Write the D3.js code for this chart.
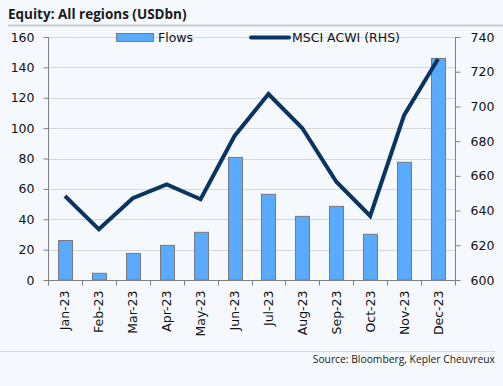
<!DOCTYPE html>
<html><head><meta charset="utf-8">
<script src="https://cdn.jsdelivr.net/npm/d3@7"></script>
<style>
html,body{margin:0;padding:0;background:#f5f9fd;}
svg{display:block;}
</style></head>
<body>
<script>
const months = ["Jan-23","Feb-23","Mar-23","Apr-23","May-23","Jun-23","Jul-23","Aug-23","Sep-23","Oct-23","Nov-23","Dec-23"];
const flows = [26, 4.4, 17.5, 22.8, 31.4, 80.7, 56.4, 41.9, 48.5, 30.1, 77.5, 145.9];
const msci = [648.4, 629.2, 647.1, 655.1, 646.5, 683, 707.1, 687.4, 656.6, 636.9, 695, 727.3];
const leftTicks = [0,20,40,60,80,100,120,140,160];
const rightTicks = [600,620,640,660,680,700,720,740];

const W = 503, H = 386;
const m = {l:48, r:455, t:37, b:280};
const svg = d3.select("body").append("svg").attr("width",W).attr("height",H);
svg.append("rect").attr("width",W).attr("height",H).attr("fill","#f5f9fd");

const font = "DejaVu Sans";
svg.append("text").attr("x",8).attr("y",19).text("Equity: All regions (USDbn)")
  .attr("font-family","Open Sans").attr("font-weight","bold").attr("font-size",13.5).attr("fill","#1a1a1a");
svg.append("line").attr("x1",8).attr("x2",503).attr("y1",25.5).attr("y2",25.5).attr("stroke","#c9cdd1").attr("stroke-width",2);
svg.append("line").attr("x1",0).attr("x2",495).attr("y1",351.5).attr("y2",351.5).attr("stroke","#d3d7db").attr("stroke-width",1);
svg.append("text").attr("x",495).attr("y",362.5).attr("text-anchor","end").text("Source: Bloomberg, Kepler Cheuvreux")
  .attr("font-family","Open Sans").attr("font-size",10.3).attr("fill","#1a1a1a");

const x = d3.scaleBand().domain(months).range([m.l,m.r]).paddingInner(0).paddingOuter(0);
const yL = d3.scaleLinear().domain([0,160]).range([m.b,m.t]);
const yR = d3.scaleLinear().domain([600,740]).range([m.b,m.t]);

// gridlines
svg.append("g").selectAll("line").data(leftTicks.slice(1)).join("line")
  .attr("x1",m.l).attr("x2",m.r).attr("y1",d=>Math.round(yL(d))+0.5).attr("y2",d=>Math.round(yL(d))+0.5)
  .attr("stroke","#d4d6d8").attr("stroke-width",1);

// legend
svg.append("rect").attr("x",116.5).attr("y",33.5).attr("width",37).attr("height",8).attr("fill","#5aabff").attr("stroke","#7a7a7a");
svg.append("text").attr("x",158).attr("y",42).text("Flows").attr("font-family",font).attr("font-size",12.5).attr("fill","#111");
svg.append("line").attr("x1",251).attr("x2",289).attr("y1",37.5).attr("y2",37.5).attr("stroke","#0b3461").attr("stroke-width",4).attr("stroke-linecap","round");
svg.append("text").attr("x",292).attr("y",42).text("MSCI ACWI (RHS)").attr("font-family",font).attr("font-size",12.5).attr("fill","#111");

// bars
const bw = 14;
svg.append("g").selectAll("rect").data(months).join("rect")
  .attr("x",(d)=>Math.round(x(d)+x.bandwidth()/2-bw/2)+0.5)
  .attr("y",(d,i)=>yL(flows[i]))
  .attr("width",bw).attr("height",(d,i)=>yL(0)-yL(flows[i]))
  .attr("fill","#5aabff").attr("stroke","#7a7a7a").attr("stroke-width",1);

// line
const line = d3.line().x((d,i)=>x(months[i])+x.bandwidth()/2).y(d=>yR(d));
svg.append("path").datum(msci).attr("d",line).attr("fill","none").attr("stroke","#0b3461").attr("stroke-width",4).attr("stroke-linejoin","miter");

// axes
const axL = d3.axisLeft(yL).tickValues(leftTicks).tickSize(5).tickPadding(9);
const gL = svg.append("g").attr("transform",`translate(${m.l+0.5},0)`).call(axL);
const axR = d3.axisRight(yR).tickValues(rightTicks).tickSize(5).tickPadding(10);
const gR = svg.append("g").attr("transform",`translate(${m.r+0.5},0)`).call(axR);
const gB = svg.append("g").attr("transform",`translate(0,${m.b+0.5})`);
gB.append("line").attr("x1",m.l).attr("x2",m.r+1).attr("stroke","#7f7f7f");
gB.selectAll("line.t").data(d3.range(13)).join("line").attr("class","t")
  .attr("x1",i=>Math.round(m.l+i*x.bandwidth())+0.5).attr("x2",i=>Math.round(m.l+i*x.bandwidth())+0.5)
  .attr("y1",0).attr("y2",5).attr("stroke","#7f7f7f");
gB.selectAll("text").data(months).join("text")
  .attr("transform",d=>`translate(${x(d)+x.bandwidth()/2+4.5},10) rotate(-90)`)
  .attr("text-anchor","end").text(d=>d)
  .attr("font-family",font).attr("font-size",12.5).attr("fill","#111");

[gL,gR].forEach(g=>{
  g.select(".domain").attr("stroke","#7f7f7f");
  g.selectAll(".tick line").attr("stroke","#7f7f7f");
  g.selectAll(".tick text").attr("font-family",font).attr("font-size",12.5).attr("fill","#111");
});
gL.select(".domain").attr("d",`M-0,${m.t}V${m.b}`);
gR.select(".domain").attr("d",`M0,${m.t}V${m.b}`);
</script>
</body></html>
